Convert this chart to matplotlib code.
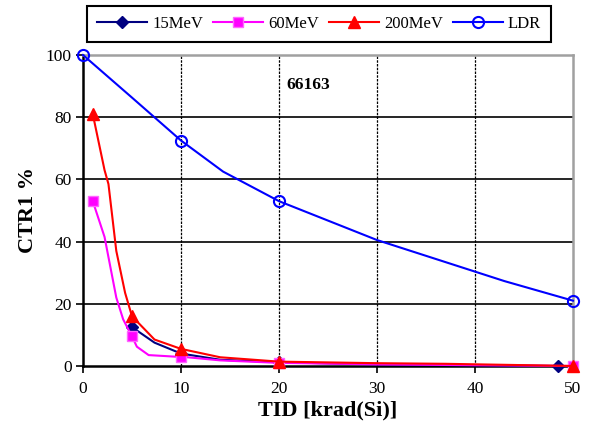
import matplotlib.pyplot as plt

plt.rcParams['font.family'] = ['Liberation Serif', 'DejaVu Serif']

# 15MeV
x_15 = [5, 7.3, 10, 14, 20, 30, 48.5]
y_15 = [12.5, 7.5, 4.0, 2.0, 1.2, 0.5, 0.0]
mk_15 = [0, 2, 4, 6]

# 60MeV
x_60 = [1, 2.2, 3.4, 4.1, 5, 5.5, 6.7, 9.4, 10, 14, 20, 30, 50]
y_60 = [53, 41.5, 22, 15, 9.5, 6.2, 3.5, 3.0, 3.0, 1.8, 1.0, 0.5, 0.0]
mk_60 = [0, 4, 8, 10, 12]

# 200MeV
x_200 = [1, 2.2, 2.6, 3.4, 4.3, 5, 7.3, 10, 14, 20, 30, 37, 50]
y_200 = [81, 63, 58.5, 37, 23.5, 16, 8.5, 5.5, 2.8, 1.4, 0.9, 0.7, 0.0]
mk_200 = [0, 5, 7, 9, 12]

# LDR
x_ldr = [0, 5, 10, 14.3, 20, 30, 43, 50]
y_ldr = [100, 86.3, 72.5, 62.5, 53, 40.5, 27.3, 21]
mk_ldr = [0, 2, 4, 7]

fig = plt.figure(figsize=(5.91, 4.23), dpi=100)
ax = fig.add_axes([0.1404, 0.1348, 0.8291, 0.7352])

ax.plot(x_15, y_15, color='#000080', lw=1.5, marker='D', ms=6,
        markevery=mk_15, label='15MeV', clip_on=False, zorder=3)
ax.plot(x_60, y_60, color='#FF00FF', lw=1.5, marker='s', ms=7,
        markevery=mk_60, mfc='#FF00FF', mec='#FF66FF', label='60MeV',
        clip_on=False, zorder=4)
ax.plot(x_200, y_200, color='#FF0000', lw=1.5, marker='^', ms=9,
        markevery=mk_200, label='200MeV', clip_on=False, zorder=5)
ax.plot(x_ldr, y_ldr, color='#0000FF', lw=1.5, marker='o', ms=8,
        markevery=mk_ldr, mfc='none', mew=1.5, label='LDR',
        clip_on=False, zorder=6)

ax.set_xlim(0, 50)
ax.set_ylim(0, 100)
ax.set_xticks([0, 10, 20, 30, 40, 50])
ax.set_yticks([0, 20, 40, 60, 80, 100])

# grid lines
for yv in [20, 40, 60, 80]:
    ax.axhline(yv, color='black', lw=1.2, zorder=1)
for xv in [10, 20, 30, 40]:
    ax.axvline(xv, color='black', lw=0.9, ls=(0, (2, 1)), zorder=1)

for s in ['left', 'bottom']:
    ax.spines[s].set_linewidth(1.8)
    ax.spines[s].set_color('black')
for s in ['top', 'right']:
    ax.spines[s].set_linewidth(1.8)
    ax.spines[s].set_color('#a0a0a0')

ax.tick_params(direction='out', length=5, width=1.2, labelsize=12.5)
ax.tick_params(axis='y', pad=3)
ax.tick_params(axis='x', pad=6)
ax.set_xlabel('TID [krad(Si)]', fontsize=16, fontweight='bold', labelpad=2)
ax.set_ylabel('CTR1 %', fontsize=16, fontweight='bold', labelpad=6)

ax.text(23, 90.3, '66163', fontsize=12.5, fontweight='bold',
        ha='center', va='center')

leg = fig.legend(loc='center', bbox_to_anchor=(0.54, 0.943), ncol=4,
                 fontsize=12, handlelength=3.0, handletextpad=0.3,
                 columnspacing=0.6, fancybox=False, edgecolor='black',
                 borderpad=0.6, framealpha=1)
leg.get_frame().set_linewidth(1.5)

fig.savefig('out.png', dpi=100)
